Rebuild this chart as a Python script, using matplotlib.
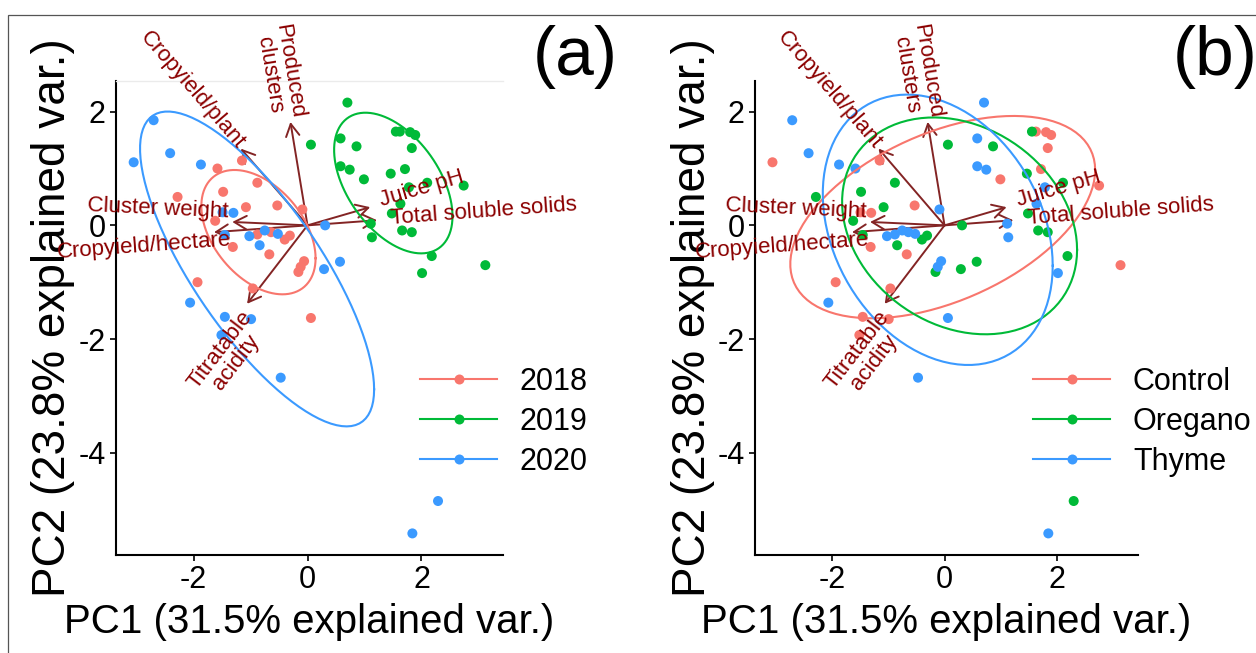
"""
PCA biplot of grape quality traits, coloured by year (a) and by treatment (b).
Scores and loadings read off the published figure.
"""

import numpy as np
import matplotlib
matplotlib.use("Agg")
import matplotlib.pyplot as plt
from matplotlib.lines import Line2D
from matplotlib.patches import Rectangle
from matplotlib import transforms

plt.rcParams["font.family"] = ["Liberation Sans", "DejaVu Sans"]
plt.rcParams["axes.unicode_minus"] = False

# sample scores on PC1 / PC2
pc1 = [
    # 2018
    -1.15, -1.58, -2.28, -1.48, -0.88, -1.08, -0.53, -0.09, -1.62, -1.31, -0.88,
    -0.64, -0.40, -0.31, -0.67, -0.06, -0.12, -0.16, -1.93, -0.96, 0.06,
    # 2019
    0.70, 0.06, 0.58, 0.86, 1.55, 1.62, 1.80, 1.89, 1.83, 0.58, 0.74, 0.99, 1.46,
    1.71, 2.10, 1.78, 2.74, 1.63, 1.48, 1.11, 1.13, 1.66, 1.83, 2.18, 2.01, 3.12,
    # 2020
    -2.70, -3.05, -2.41, -1.87, -1.49, -1.30, -1.45, -1.02, -0.75, -0.52, -0.84,
    0.31, 0.57, 0.29, -2.06, -1.45, -0.99, -1.51, -0.47, 2.29, 1.84,
]
pc2 = [
    1.14, 1.00, 0.50, 0.59, 0.75, 0.32, 0.35, 0.28, 0.08, -0.38, -0.16,
    -0.12, -0.25, -0.18, -0.51, -0.63, -0.73, -0.82, -1.00, -1.11, -1.63,
    2.16, 1.42, 1.53, 1.39, 1.65, 1.65, 1.64, 1.59, 1.36, 1.04, 0.98, 0.81, 0.91,
    0.99, 0.75, 0.67, 0.70, 0.38, 0.21, 0.03, -0.21, -0.09, -0.12, -0.54, -0.84, -0.70,
    1.85, 1.11, 1.27, 1.07, 0.23, 0.22, -0.17, -0.19, -0.09, -0.15, -0.35,
    0.00, -0.64, -0.77, -1.36, -1.61, -1.65, -1.93, -2.68, -4.85, -5.42,
]
year = ["2018"] * 21 + ["2019"] * 26 + ["2020"] * 21
treatment = (
    list("CTOOOOCTOCTTOOCTTOCCT")
    + list("TOTOOCCCCTTCOCOTCTOTTOOOTC")
    + list("TCTTCCOTTTOOOOTCCCTOT")
)
treat_names = {"C": "Control", "O": "Oregano", "T": "Thyme"}
treatment = [treat_names[t] for t in treatment]

# variable loadings (arrow tips)
var_names = ["Produced\nclusters", "Cropyield/plant", "Cluster weight",
             "Cropyield/hectare", "Titratable\nacidity", "Juice pH",
             "Total soluble solids"]
var_x = [-0.30, -1.17, -1.32, -1.64, -1.06, 1.10, 1.22]
var_y = [1.82, 1.35, 0.06, -0.12, -1.38, 0.32, 0.09]

# label nudges in pixels (dx, dy)
label_nudge = [(-3, 2), (0, 2), (-4, 10), (17, -8), (9, -16), (10, 6), (14, 2)]

years = ["2018", "2019", "2020"]
treatments = ["Control", "Oregano", "Thyme"]
palette = ["#F8766D", "#00BA38", "#3B9AFF"]

W, H = 1256, 653
fig = plt.figure(figsize=(W / 100, H / 100), dpi=100)


def _ellipse(x, y, prob=0.68, n=100):
    pts = np.column_stack([x, y])
    sigma = np.cov(pts.T)
    mu = pts.mean(axis=0)
    ed = np.sqrt(-2 * np.log(1 - prob))
    t = np.linspace(0, 2 * np.pi, n)
    circle = np.column_stack([np.cos(t), np.sin(t)])
    L = np.linalg.cholesky(sigma)
    return circle @ L.T * ed + mu


def draw_panel(left_px, width_px, groups, levels, tag, leg_x_px, top_line, ylab_right_px):
    ax = fig.add_axes([left_px / W, 1 - 555 / H, width_px / W, 474 / H])
    ax.set_xlim(-3.36, 3.43)
    ax.set_ylim(-5.80, 2.54)

    x = np.array(pc1)
    y = np.array(pc2)
    g = np.array(groups)

    for vx, vy in zip(var_x, var_y):
        ax.annotate("", xy=(vx, vy), xytext=(0, 0),
                    arrowprops=dict(arrowstyle="->,head_length=0.4,head_width=0.22",
                                    color="#832424", lw=1.4, mutation_scale=22,
                                    shrinkA=0, shrinkB=0))

    for lev, col in zip(levels, palette):
        m = g == lev
        ax.scatter(x[m], y[m], s=52, color=col, edgecolors="none", zorder=3)
    for lev, col in zip(levels, palette):
        m = g == lev
        e = _ellipse(x[m], y[m])
        ax.plot(e[:, 0], e[:, 1], color=col, lw=1.5, zorder=4)

    for name, vx, vy, (dx, dy) in zip(var_names, var_x, var_y, label_nudge):
        ang = np.degrees(np.arctan(vy / vx))
        tr = transforms.offset_copy(ax.transData, fig=fig, x=dx, y=dy, units="dots")
        ax.text(vx, vy, name, transform=tr, rotation=ang, rotation_mode="anchor",
                ha="right" if vx < 0 else "left", va="center",
                multialignment="center", color="darkred", fontsize=16,
                clip_on=False, zorder=5, linespacing=0.95)

    ax.spines["right"].set_visible(False)
    if top_line:
        ax.spines["top"].set_color("#EBEBEB")
        ax.spines["top"].set_linewidth(1.0)
    else:
        ax.spines["top"].set_visible(False)
    for side in ["left", "bottom"]:
        ax.spines[side].set_linewidth(1.5)
        ax.spines[side].set_color("black")

    ax.set_xticks([-2, 0, 2])
    ax.set_yticks([-4, -2, 0, 2])
    ax.tick_params(labelsize=22, length=4.5, width=1.2, pad=3, colors="black")

    ax.set_xlabel("PC1 (31.5% explained var.)", fontsize=29)
    ax.xaxis.set_label_coords(0.5, -(603 - 555) / 474)
    ax.set_ylabel("PC2 (23.8% explained var.)", fontsize=33)
    ax.yaxis.set_label_coords(-(left_px - ylab_right_px) / width_px, 0.5)

    handles = [Line2D([], [], color=c, lw=1.5, marker="o", markersize=7.2,
                      markeredgecolor="none") for c in palette]
    ax.legend(handles, levels, loc="upper left", frameon=False, fontsize=22,
              handlelength=2.52, handletextpad=0.75, labelspacing=0.32,
              borderpad=0, borderaxespad=0,
              bbox_to_anchor=(leg_x_px / W, 1 - 367 / H),
              bbox_transform=fig.transFigure)

    fig.text(tag[1] / W, 1 - 57 / H, tag[0], ha="center", va="center", fontsize=50)
    return ax


draw_panel(116, 387, year, years, ("(a)", 575), 420, True, 75)
draw_panel(755, 383, treatment, treatments, ("(b)", 1215), 1033, False, 715)

fig.patches.append(Rectangle((8 / W, -0.05), 1.2, 1 - 15 / H + 0.05, fill=False,
                             edgecolor="#555555", lw=0.9,
                             transform=fig.transFigure, figure=fig))

fig.savefig("out.png", dpi=100)
